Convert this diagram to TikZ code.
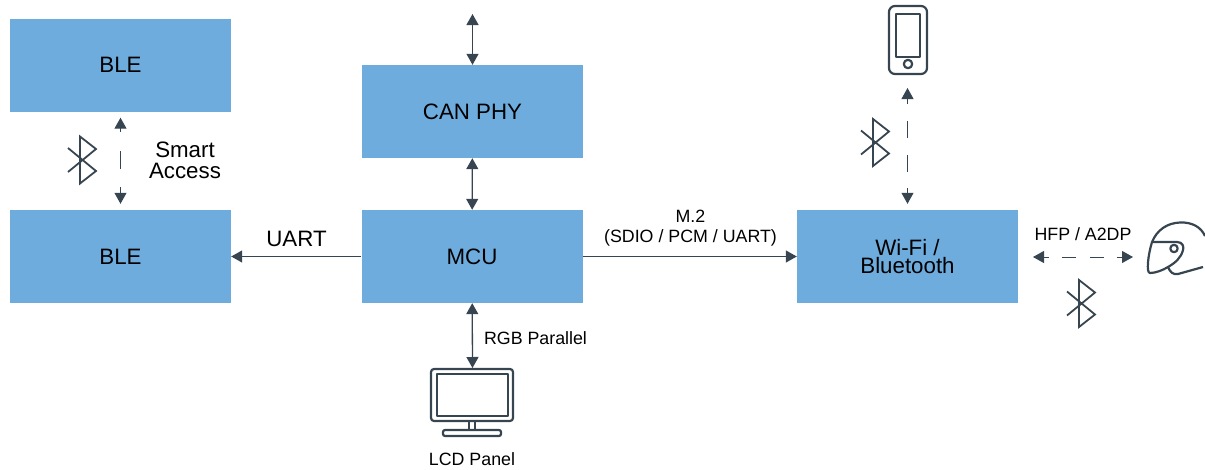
\documentclass[tikz,border=0pt]{standalone}
\usepackage{fontspec}
\setmainfont{Liberation Sans}
\usetikzlibrary{arrows.meta}
\definecolor{boxblue}{HTML}{6FACDE}
\definecolor{slate}{HTML}{36454F}
\tikzset{
  btooth/.pic={
    \draw[slate,line width=1.8pt,line join=miter] (-12,-12) -- (16,11) -- (0,23.5) -- (0,-23.5) -- (16,-11) -- (-12,12);
  }
}
\begin{document}
\begin{tikzpicture}[x=1pt,y=-1pt,>={Triangle[length=11pt,width=12pt]}]
    \tikzstyle{block}=[fill=boxblue,minimum width=221pt,minimum height=93pt,inner sep=0pt,align=center,font=\fontsize{22.3}{18.5}\selectfont]
    \tikzstyle{link}=[slate,line width=1.3pt,<->]
    \tikzstyle{wireless}=[link,line width=1pt]
    \tikzstyle{icon}=[slate,line width=2.2pt,line join=round]
    \tikzstyle{biglabel}=[align=center,inner sep=0pt,font=\fontsize{22.3}{21}\selectfont]
    \tikzstyle{smalllabel}=[align=center,inner sep=0pt,font=\fontsize{17.8}{20}\selectfont]

    \useasboundingbox (0,0) rectangle (1205,469);

    % Blocks
    \node[block] (BLE-top) at (120.5,65) {BLE};
    \node[block] (BLE-low) at (120.5,256.5) {BLE};
    \node[block] (CAN) at (472.5,111.5) {CAN PHY};
    \node[block] (MCU) at (472,256.5) {MCU};
    \node[block] (WIFI) at (907.5,256.5) {Wi-Fi /\\Bluetooth};

    % Free ends of the links
    \coordinate (bus) at (472.5,14);
    \coordinate (lcd) at (472.5,368);
    \coordinate (phone) at (907.5,88);
    \coordinate (hfp-l) at (1033,257);
    \coordinate (hfp-r) at (1133,257);

    % Wired links
    \draw[link] (bus) -- (CAN);
    \draw[link] (CAN) -- (MCU);
    \draw[link,-,->] (MCU) -- (BLE-low);
    \draw[link,-,->] (MCU) -- (WIFI);
    \draw[link] (MCU) -- (lcd);

    % Wireless links
    \draw[wireless,dash pattern=on 4pt off 19pt on 18pt off 18pt on 18pt off 18pt] ([yshift=-6pt]BLE-top.south) -- ([yshift=6pt]BLE-low.north);
    \draw[wireless,dash pattern=on 5pt off 17pt on 17pt off 17pt on 17pt off 16pt on 10pt off 10pt] (phone) -- ([yshift=6pt]WIFI.north);
    \draw[wireless,dash pattern=on 5pt off 13pt on 14pt off 14pt on 14pt off 13pt on 6pt off 6pt] (hfp-l) -- (hfp-r);

    % Labels
    \node[biglabel] (smart) at (185,160.5) {Smart\\Access};
    \node[biglabel] (uart) at (296.5,239) {UART};
    \node[smalllabel] (m2) at (690.5,228) {M.2\\(SDIO / PCM / UART)};
    \node[smalllabel] (rgb) at (535.5,338) {RGB Parallel};
    \node[smalllabel] (panel) at (472,459) {LCD Panel};
    \node[smalllabel] (a2dp) at (1083,234) {HFP / A2DP};

    % Bluetooth marks
    \pic at (80,160) {btooth};
    \pic at (873,142.5) {btooth};
    \pic at (1079,303.5) {btooth};

    % Phone
    \draw[icon,rounded corners=6pt] (889,6) rectangle (927,74);
    \draw[icon] (896,14) rectangle (920,57);
    \draw[icon] (908,64) circle (4.2);

    % Monitor
    \draw[icon,rounded corners=3pt] (431,369) rectangle (513,421);
    \draw[icon] (437,374) rectangle (508,416);
    \draw[icon] (469,421) -- (469,430) (475,421) -- (475,430);
    \draw[icon,rounded corners=2pt] (443,430) rectangle (501,436);

    % Helmet
    \draw[icon] (1152,242) .. controls (1157,230) and (1167,223) .. (1180,222.5) .. controls (1192,222) and (1201,227) .. (1205,236);
    \draw[icon] (1152,242) -- (1177,242) .. controls (1183,242) and (1184,247) .. (1183,250) .. controls (1181,258) and (1175,263) .. (1168,267) .. controls (1163,270) and (1156,273) .. (1150,273) .. controls (1146,273) and (1148,255) .. (1152,242);
    \draw[icon] (1168,267) .. controls (1170,272) and (1173,275) .. (1178,274) -- (1203,267);
    \draw[icon] (1174,248.5) circle (3.7);
\end{tikzpicture}
\end{document}
